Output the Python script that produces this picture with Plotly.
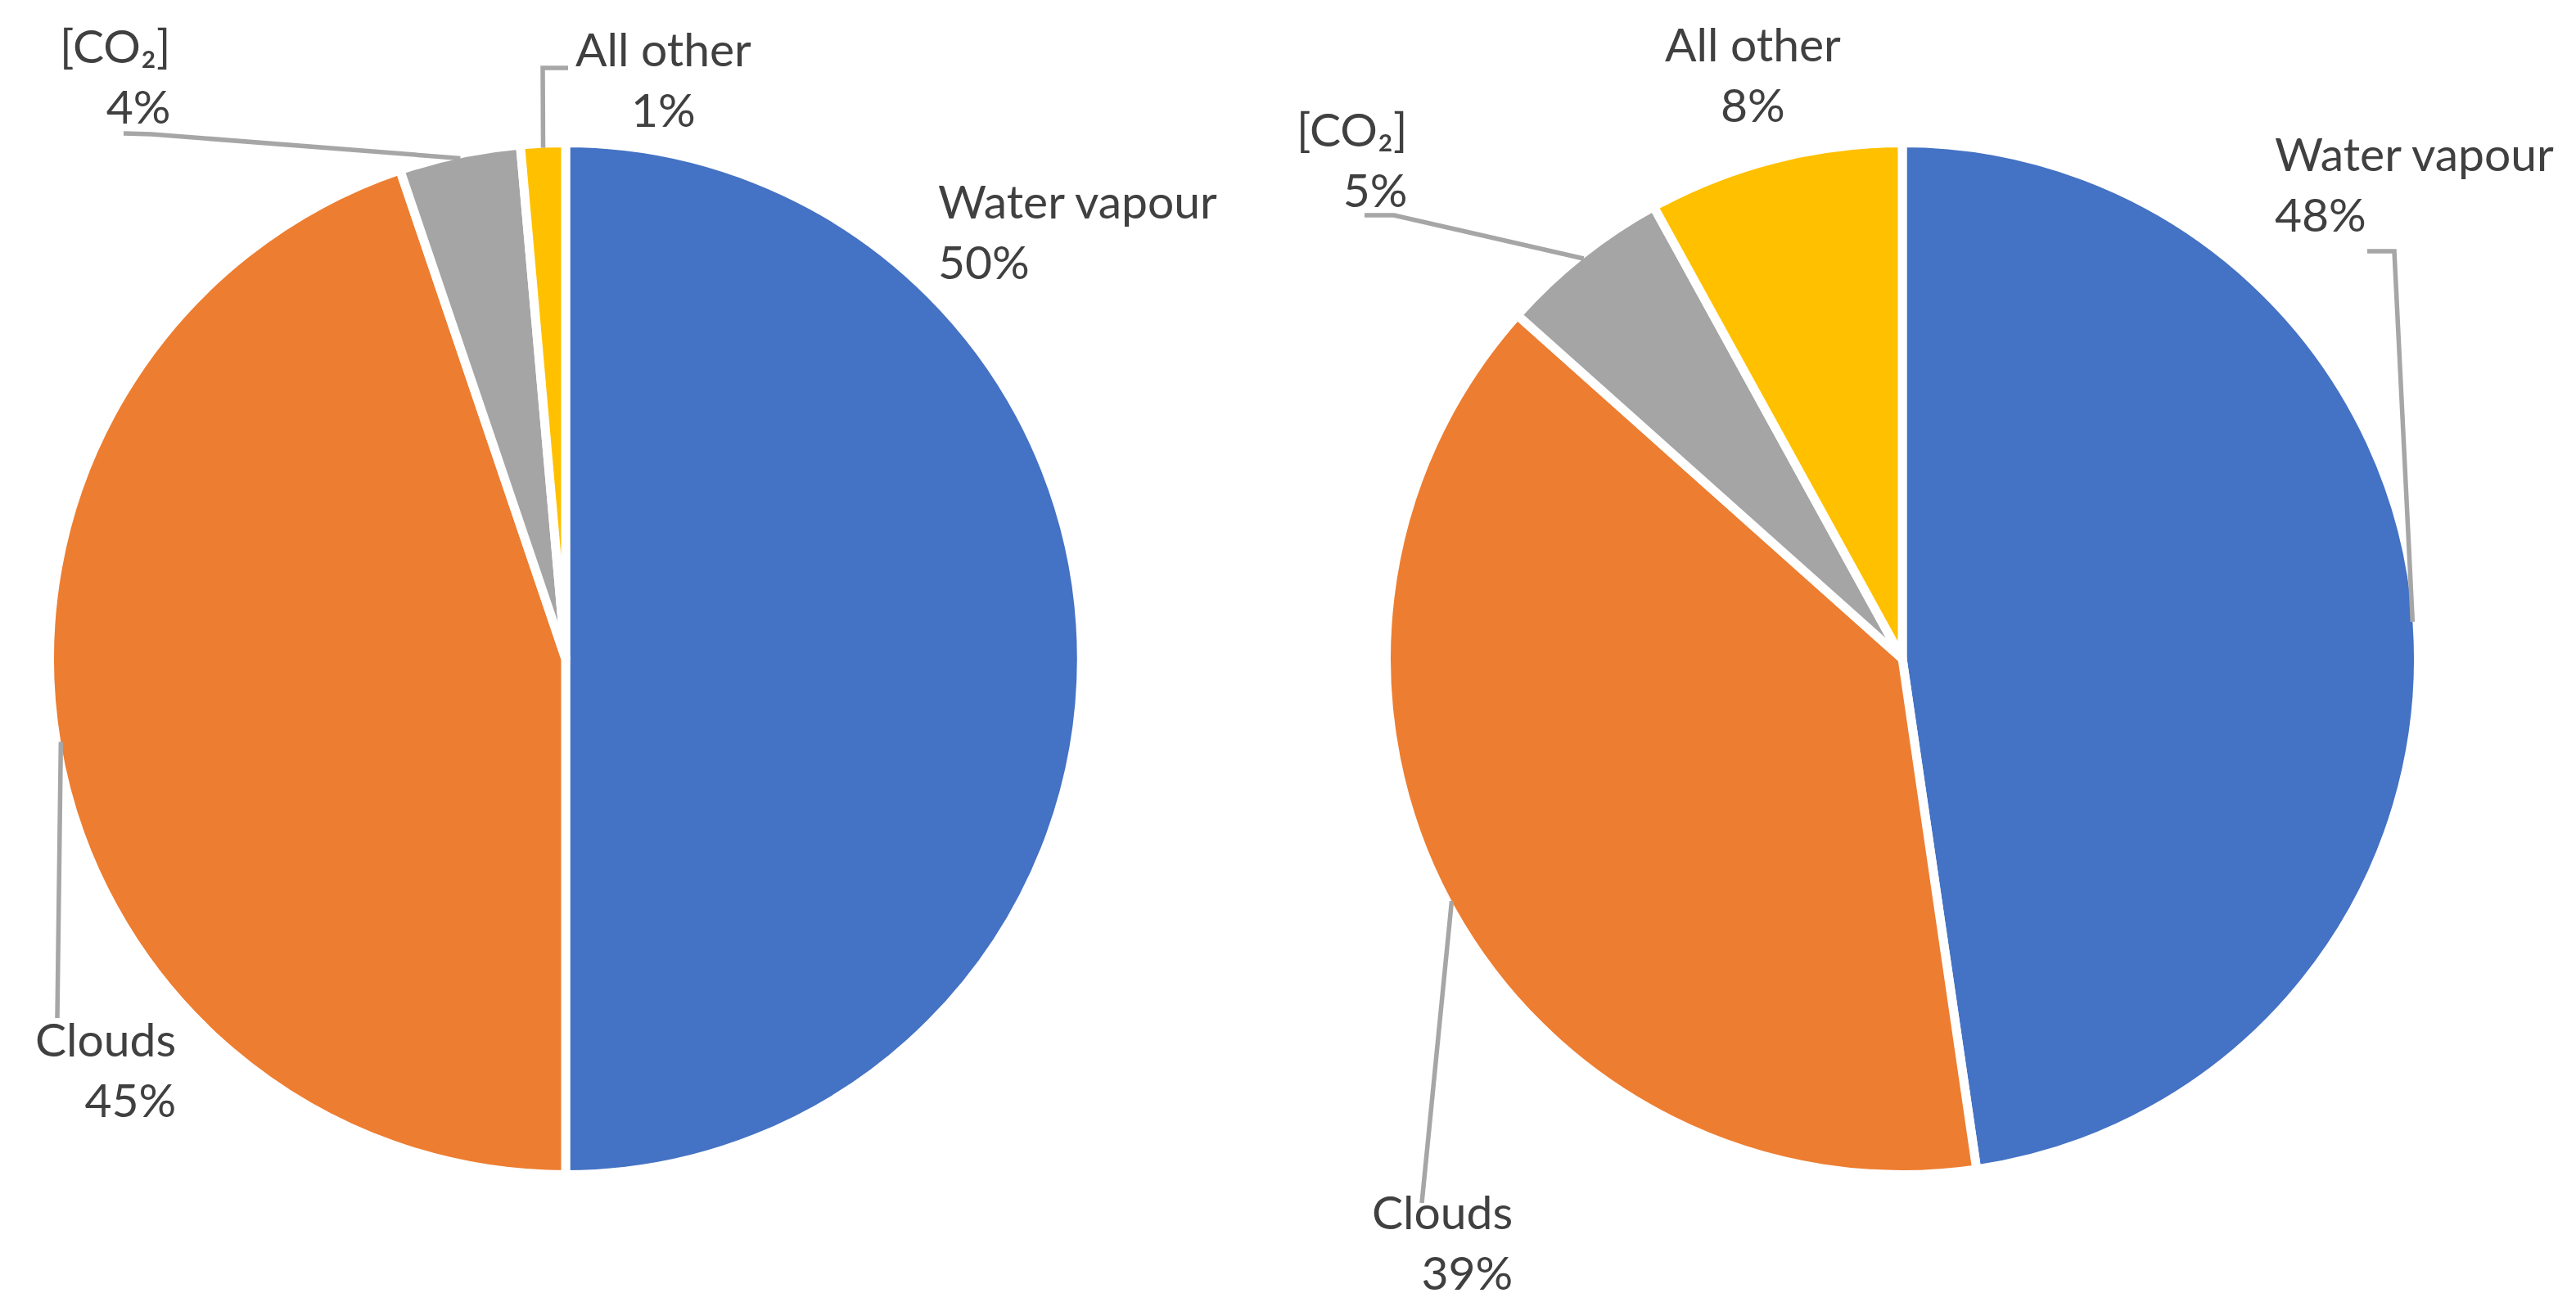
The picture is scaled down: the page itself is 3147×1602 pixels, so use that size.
import math
import plotly.graph_objects as go

W, H = 3147, 1602

# ---- data ----
categories = ["Water vapour", "Clouds", "[CO₂]", "All other"]
left_values = [50.0, 44.8, 3.8, 1.4]
right_values = [47.7, 38.9, 5.4, 8.0]
colors = ["#4472C4", "#ED7D31", "#A5A5A5", "#FFC000"]

# ---- layout constants (pixels, top-left origin) ----
SEP = 11
R = 625 + SEP / 2
pies = [
    dict(values=left_values, cx=691, cy=805,
         labels=[dict(x=1144, y=282, anchor="left", lead=None),
                 dict(x=217, y=1306, anchor="right", lead=[(70, 1244)]),
                 dict(x=210, y=92, anchor="right", lead=[(151, 163), (185, 164)]),
                 dict(x=810, y=96, anchor="center", lead=[(694, 83), (663, 83)])]),
    dict(values=right_values, cx=2324, cy=805,
         labels=[dict(x=2777, y=224, anchor="left", lead=[(2892, 307), (2925, 307)]),
                 dict(x=1850, y=1517, anchor="right", lead=[(1737, 1470)]),
                 dict(x=1721, y=194, anchor="right", lead=[(1667, 263), (1703, 263)]),
                 dict(x=2141, y=90, anchor="center", lead=None)]),
]

TEXT_COLOR = "#404040"
LEAD_COLOR = "#A6A6A6"
FONT = "Lato, Carlito, 'Liberation Sans', sans-serif"
FS = 57


def px2paper(x, y):
    return x / W, 1 - y / H


fig = go.Figure()
annotations = []
shapes = []

for p in pies:
    cx, cy = p["cx"], p["cy"]
    x0, y0 = px2paper(cx - R, cy + R)
    x1, y1 = px2paper(cx + R, cy - R)
    fig.add_trace(go.Pie(
        labels=categories, values=p["values"], sort=False,
        direction="clockwise", rotation=0,
        marker=dict(colors=colors, line=dict(color="white", width=SEP)),
        textinfo="none", hoverinfo="label+percent", showlegend=False,
        domain=dict(x=[x0, x1], y=[y0, y1]),
    ))
    total = sum(p["values"])
    cum = 0.0
    r_vis = R - SEP / 2
    for cat, v, lab in zip(categories, p["values"], p["labels"]):
        mid = (cum + v / 2) / total
        cum += v
        ang = 2 * math.pi * mid
        ax_, ay_ = cx + r_vis * math.sin(ang), cy - r_vis * math.cos(ang)
        pct = round(v / total * 100)
        lx, ly = px2paper(lab["x"], lab["y"])
        annotations.append(dict(
            x=lx, y=ly, xref="paper", yref="paper", showarrow=False,
            text=f"{cat}<br>{pct}%", xanchor=lab["anchor"], yanchor="middle",
            align=lab["anchor"], font=dict(family=FONT, size=FS, color=TEXT_COLOR),
        ))
        if lab["lead"]:
            pts = list(lab["lead"]) + [(ax_, ay_)]
            path = ""
            for i, (px_, py_) in enumerate(pts):
                qx, qy = px2paper(px_, py_)
                path += ("M" if i == 0 else " L") + f" {qx:.5f} {qy:.5f}"
            shapes.append(dict(type="path", path=path, xref="paper", yref="paper",
                               line=dict(color=LEAD_COLOR, width=5.5)))

fig.update_layout(
    width=W, height=H, margin=dict(l=0, r=0, t=0, b=0),
    paper_bgcolor="white", plot_bgcolor="white",
    annotations=annotations, shapes=shapes,
)

fig.write_html("out.html", config={"displayModeBar": False},
               post_script="document.body.style.margin='0';")
